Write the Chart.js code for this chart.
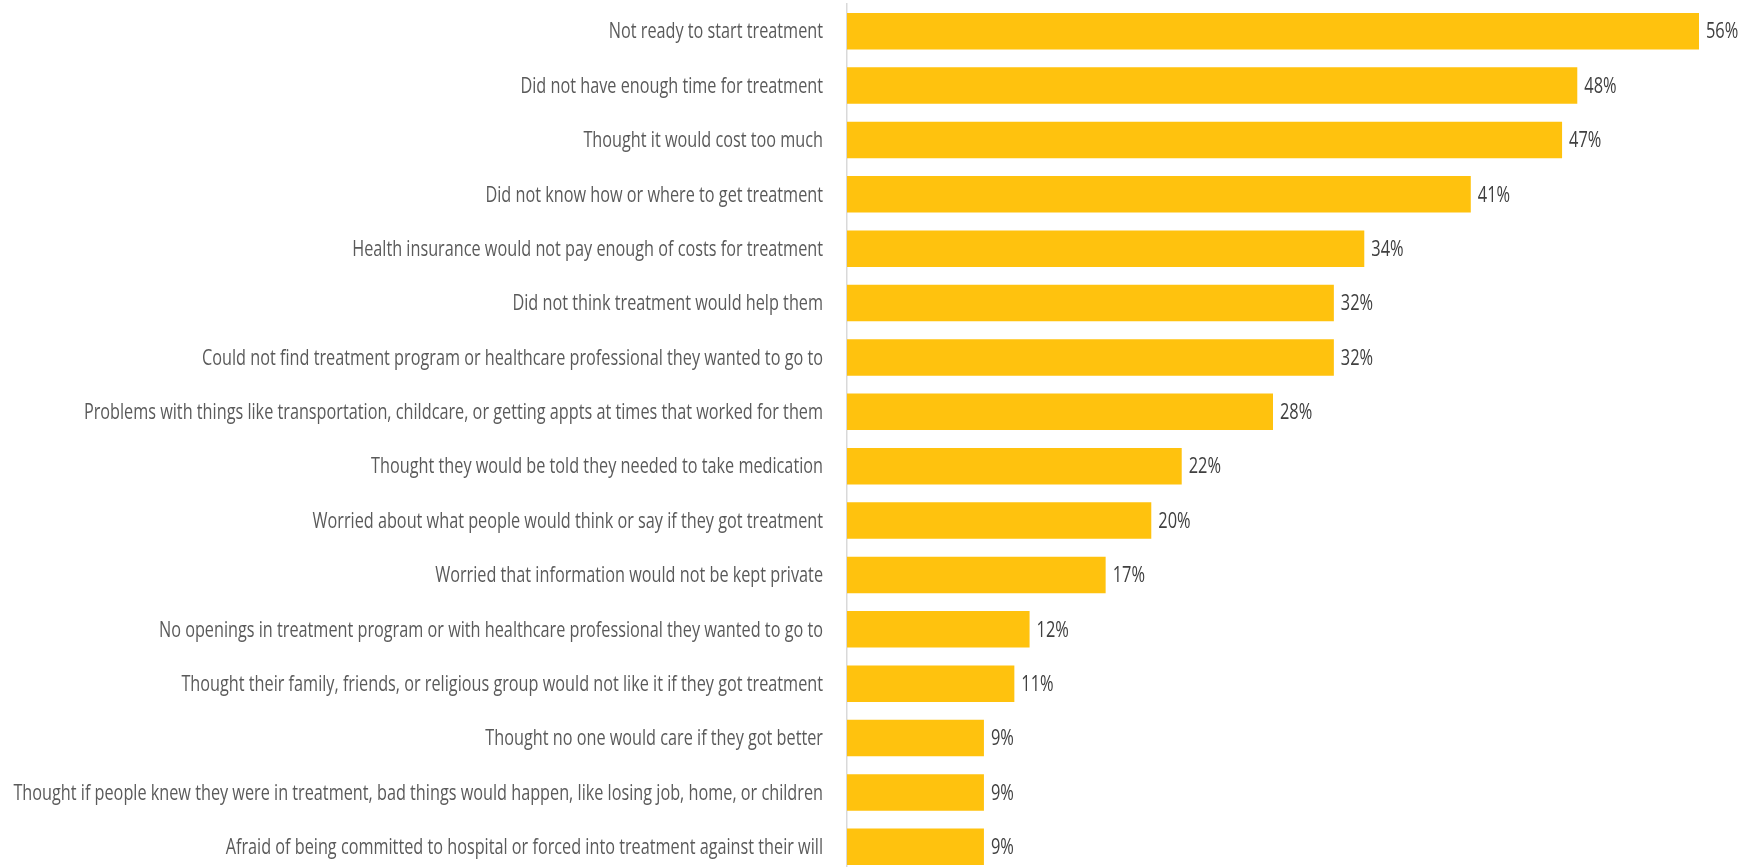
<!DOCTYPE html>
<html>
<head>
<meta charset="utf-8">
<script src="https://cdn.jsdelivr.net/npm/chart.js@4/dist/chart.umd.min.js"></script>
<style>
  html, body { margin: 0; padding: 0; background: #ffffff; overflow: hidden; }
  #wrap { position: relative; width: 1742px; height: 880px; }
</style>
</head>
<body>
<div id="wrap"><canvas id="chart"></canvas></div>
<script>
// Reasons for not getting treatment, share of respondents (%)
const reasons = [
  "Not ready to start treatment",
  "Did not have enough time for treatment",
  "Thought it would cost too much",
  "Did not know how or where to get treatment",
  "Health insurance would not pay enough of costs for treatment",
  "Did not think treatment would help them",
  "Could not find treatment program or healthcare professional they wanted to go to",
  "Problems with things like transportation, childcare, or getting appts at times that worked for them",
  "Thought they would be told they needed to take medication",
  "Worried about what people would think or say if they got treatment",
  "Worried that information would not be kept private",
  "No openings in treatment program or with healthcare professional they wanted to go to",
  "Thought their family, friends, or religious group would not like it if they got treatment",
  "Thought no one would care if they got better",
  "Thought if people knew they were in treatment, bad things would happen, like losing job, home, or children",
  "Afraid of being committed to hospital or forced into treatment against their will"
];
const percents = [56, 48, 47, 41, 34, 32, 32, 28, 22, 20, 17, 12, 11, 9, 9, 9];

const FONT = "'Open Sans', 'Noto Sans', sans-serif";
const LABEL_SQUEEZE = 0.738;   // horizontal compression for a condensed look
const VALUE_SQUEEZE = 0.745;
const BAR_COLOR = "#FFC20E";
const AXIS_X = 847;            // left edge of the plotting area
const LABEL_GAP = 24;

// Draws condensed text: right- or left-aligned at (x, y), vertically centred
function condensedText(ctx, text, x, y, align, squeeze) {
  ctx.save();
  ctx.translate(x, y);
  ctx.scale(squeeze, 1);
  ctx.textAlign = align;
  ctx.textBaseline = "middle";
  ctx.fillText(text, 0, 0);
  ctx.restore();
}

// Category names next to the vertical axis, placed at the scale's tick positions
const categoryLabels = {
  id: "categoryLabels",
  afterDraw(chart) {
    const ctx = chart.ctx;
    const y = chart.scales.y;
    ctx.save();
    ctx.font = "400 22px " + FONT;
    ctx.fillStyle = "#5a5a5a";
    reasons.forEach((label, i) => {
      condensedText(ctx, label, y.right - LABEL_GAP, y.getPixelForTick(i) + 1, "right", LABEL_SQUEEZE);
    });
    ctx.restore();
  }
};

// Percent labels drawn just past the end of each bar
const valueLabels = {
  id: "valueLabels",
  afterDatasetsDraw(chart) {
    const ctx = chart.ctx;
    const meta = chart.getDatasetMeta(0);
    ctx.save();
    ctx.font = "400 22px " + FONT;
    ctx.fillStyle = "#404040";
    meta.data.forEach((bar, i) => {
      condensedText(ctx, percents[i] + "%", bar.x + 7, bar.y + 1, "left", VALUE_SQUEEZE);
    });
    ctx.restore();
  }
};

new Chart(document.getElementById("chart"), {
  type: "bar",
  data: {
    labels: reasons,
    datasets: [{
      data: percents,
      backgroundColor: BAR_COLOR,
      borderWidth: 0,
      barPercentage: 0.67,
      categoryPercentage: 1.0
    }]
  },
  options: {
    indexAxis: "y",
    responsive: true,
    maintainAspectRatio: false,
    animation: false,
    layout: { padding: { left: 0, right: 43, top: 4, bottom: 6 } },
    plugins: {
      legend: { display: false },
      tooltip: { enabled: false }
    },
    scales: {
      x: {
        display: false,
        min: 0,
        max: 56
      },
      y: {
        afterFit(scale) { scale.width = AXIS_X; },
        grid: { display: false, drawTicks: false },
        border: { display: true, color: "#d9d9d9", width: 1.5 },
        ticks: { display: false, autoSkip: false }
      }
    }
  },
  plugins: [valueLabels, categoryLabels]
});
</script>
</body>
</html>
